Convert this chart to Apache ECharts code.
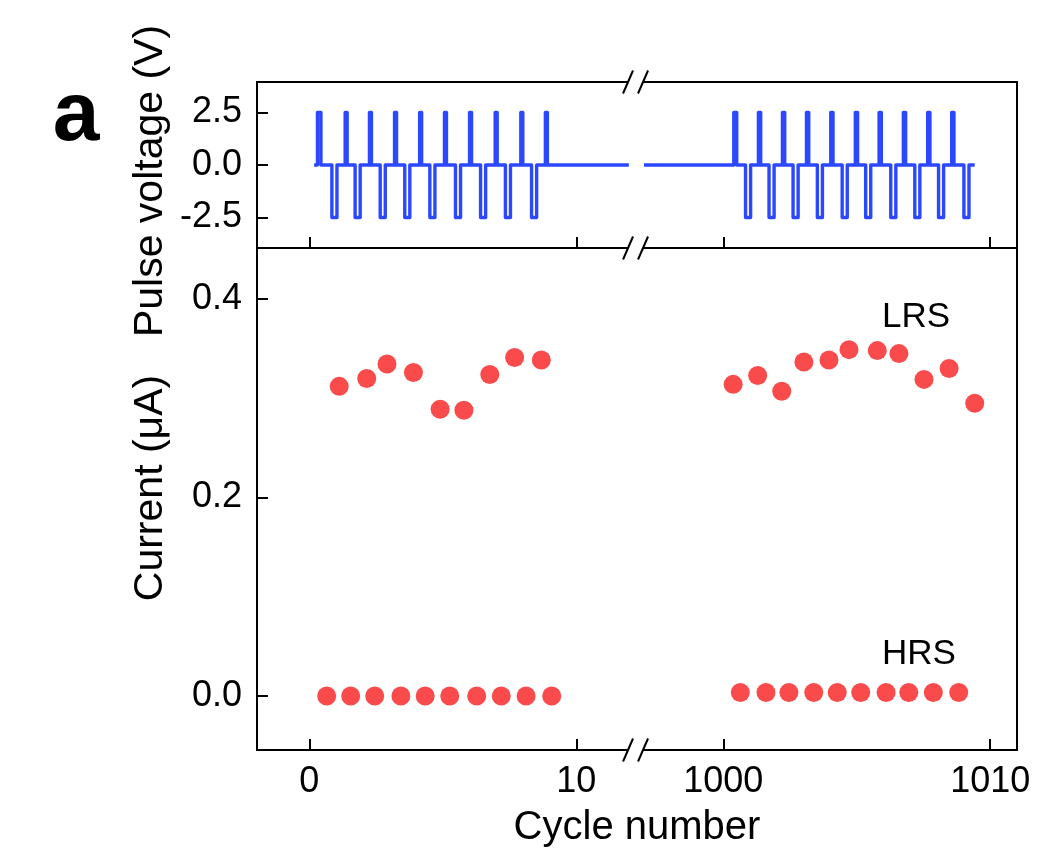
<!DOCTYPE html>
<html><head><meta charset="utf-8">
<script src="https://cdn.jsdelivr.net/npm/echarts@6/dist/echarts.min.js"></script>
<style>html,body{margin:0;padding:0;background:#fff}#c{width:1037px;height:854px}</style>
</head><body><div id="c"></div>
<script>
// ---------------- data ----------------
const xTickLabels = [0, 10, 1000, 1010];
const voltTicks = [-2.5, 0, 2.5];
const currTicks = [0, 0.2, 0.4];

const lrsLeftX  = [1.12, 2.15, 2.91, 3.90, 4.90, 5.79, 6.76, 7.69, 8.69];
const lrsLeftY  = [0.312, 0.320, 0.3345, 0.326, 0.289, 0.288, 0.324, 0.341, 0.3385];
const lrsRightX = [1000.37, 1001.29, 1002.19, 1003.02, 1003.96, 1004.71, 1005.77, 1006.58, 1007.52, 1008.46, 1009.42];
const lrsRightY = [0.314, 0.323, 0.307, 0.3365, 0.3385, 0.349, 0.348, 0.345, 0.319, 0.330, 0.295];
const hrsLeftX  = [0.65, 1.55, 2.45, 3.43, 4.34, 5.26, 6.27, 7.19, 8.12, 9.08];
const hrsLeftY  = [0, 0, 0, 0, 0, 0, 0, 0, 0, 0];
const hrsRightX = [1000.64, 1001.60, 1002.46, 1003.39, 1004.27, 1005.15, 1006.10, 1006.95, 1007.87, 1008.82];
const hrsRightY = [0.0035, 0.0035, 0.0035, 0.0035, 0.0035, 0.0035, 0.0035, 0.0035, 0.0035, 0.0035];

// pulse train: centre times of SET (+2.5 V) and RESET (-2.5 V) pulses and their widths
const setV = 2.5, resetV = -2.5;
const setLeftT    = [0.37, 1.38, 2.29, 3.23, 4.17, 5.10, 6.04, 7.00, 7.96, 8.88];
const setLeftW    = [0.13, 0.075, 0.075, 0.075, 0.075, 0.075, 0.075, 0.075, 0.075, 0.075];
const resetLeftT  = [0.94, 1.81, 2.75, 3.67, 4.61, 5.57, 6.51, 7.44, 8.42];
const setRightT   = [1000.45, 1001.36, 1002.26, 1003.16, 1004.07, 1004.99, 1005.88, 1006.79, 1007.70, 1008.60];
const setRightW   = [0.11, 0.085, 0.085, 0.085, 0.085, 0.085, 0.085, 0.085, 0.085, 0.085];
const resetRightT = [1000.93, 1001.81, 1002.71, 1003.62, 1004.55, 1005.43, 1006.37, 1007.27, 1008.16, 1009.11];
const resetW = 0.19;
const traceLeft  = [0.18, 11.97];
const traceRight = [997.03, 1009.42];

// ---------------- broken axis mapping ----------------
const rightShift = 1000 - 15.506;   // right segment drawn right after the break
const mapX = x => (x >= 500 ? x - rightShift : x);
const breakValue = 12.22;

function buildTrace(range, sets, setW, resets) {
  const ev = [];
  sets.forEach((t, i) => ev.push([t, setW[i], setV]));
  resets.forEach(t => ev.push([t, resetW, resetV]));
  ev.sort((a, b) => a[0] - b[0]);
  const pts = [[mapX(range[0]), 0]];
  ev.forEach(([t, w, v]) => {
    const a = mapX(t - w / 2), b = mapX(t + w / 2);
    pts.push([a, 0], [a, v], [b, v], [b, 0]);
  });
  pts.push([mapX(range[1]), 0]);
  return pts;
}
const zip = (xs, ys) => xs.map((x, i) => [mapX(x), ys[i]]);

const FONT = '"Liberation Sans", Arial, Helvetica, sans-serif';
const BLUE = '#2C48FF', RED = '#F94B4B';

const chart = echarts.init(document.getElementById('c'), null, {renderer: 'canvas'});

const tickStyle = {color: '#000', width: 2};
const xAxisBase = {
  type: 'value', min: -1.96, max: 26.51, position: 'bottom',
  axisLine: {show: false, onZero: false},
  splitLine: {show: false},
  axisTick: {show: true, inside: true, length: 11, lineStyle: tickStyle,
             customValues: xTickLabels.map(mapX)},
};
const yAxisBase = {
  type: 'value', position: 'left',
  axisLine: {show: false, onZero: false},
  splitLine: {show: false},
};
const option = {
  animation: false,
  backgroundColor: '#fff',
  grid: [
    {left: 257, top: 82, width: 760, height: 166, show: true, borderColor: '#000', borderWidth: 2, backgroundColor: 'transparent'},
    {left: 257, top: 248, width: 760, height: 502, show: true, borderColor: '#000', borderWidth: 2, backgroundColor: 'transparent'}
  ],
  xAxis: [
    Object.assign({}, xAxisBase, {gridIndex: 0, axisLabel: {show: false}}),
    Object.assign({}, xAxisBase, {gridIndex: 1,
      axisLabel: {show: true, color: '#000', fontSize: 36, fontFamily: FONT, margin: 14,
                  customValues: xTickLabels.map(mapX),
                  formatter: v => { const i = xTickLabels.map(mapX).findIndex(t => Math.abs(t - v) < 1e-6); return i >= 0 ? String(xTickLabels[i]) : ''; }}})
  ],
  yAxis: [
    Object.assign({}, yAxisBase, {gridIndex: 0, min: -3.95, max: 3.95,
     axisTick: {show: true, inside: true, length: 11, lineStyle: tickStyle, customValues: voltTicks},
     axisLabel: {show: true, color: '#000', fontSize: 36, fontFamily: FONT, margin: 15, customValues: voltTicks,
                 formatter: v => v.toFixed(1)}}),
    Object.assign({}, yAxisBase, {gridIndex: 1, min: -0.0544, max: 0.4514,
     axisTick: {show: true, inside: true, length: 11, lineStyle: tickStyle, customValues: currTicks},
     axisLabel: {show: true, color: '#000', fontSize: 36, fontFamily: FONT, margin: 15, customValues: currTicks,
                 formatter: v => v.toFixed(1)}})
  ],
  series: [
    {type: 'line', xAxisIndex: 0, yAxisIndex: 0, data: buildTrace(traceLeft, setLeftT, setLeftW, resetLeftT),
     symbol: 'none', lineStyle: {color: BLUE, width: 3.4, join: 'round', cap: 'butt'}},
    {type: 'line', xAxisIndex: 0, yAxisIndex: 0, data: buildTrace(traceRight, setRightT, setRightW, resetRightT),
     symbol: 'none', lineStyle: {color: BLUE, width: 3.4, join: 'round', cap: 'butt'}},
    {type: 'scatter', xAxisIndex: 1, yAxisIndex: 1, data: zip(lrsLeftX, lrsLeftY).concat(zip(lrsRightX, lrsRightY)),
     symbol: 'circle', symbolSize: 19, itemStyle: {color: RED, opacity: 1}},
    {type: 'scatter', xAxisIndex: 1, yAxisIndex: 1, data: zip(hrsLeftX, hrsLeftY).concat(zip(hrsRightX, hrsRightY)),
     symbol: 'circle', symbolSize: 19, itemStyle: {color: RED, opacity: 1}}
  ]
};
chart.setOption(option);

// texts and axis-break marks
const bx = chart.convertToPixel({xAxisIndex: 0}, breakValue);
const yTop = chart.convertToPixel({yAxisIndex: 0}, 3.95);
const yMid = chart.convertToPixel({yAxisIndex: 0}, -3.95);
const yBot = chart.convertToPixel({yAxisIndex: 1}, -0.0544);
const graphics = [];
[yTop, yMid, yBot].forEach(y => {
  graphics.push({type: 'rect', shape: {x: bx - 7.5, y: y - 2, width: 15, height: 4}, style: {fill: '#fff'}, z: 100});
  [-7.5, 7.5].forEach(dx => graphics.push({type: 'line', shape: {x1: bx + dx - 5, y1: y + 11.5, x2: bx + dx + 5, y2: y - 11.5},
    style: {stroke: '#000', lineWidth: 2}, z: 101}));
});
const txt = (text, x, y, font, extra) => Object.assign({type: 'text', x: x, y: y, z: 110,
  style: {text: text, x: 0, y: 0, fill: '#000', font: font, textAlign: 'center', textVerticalAlign: 'middle'}}, extra || {});
graphics.push(txt('a', 76, 117, 'bold 84px ' + FONT));
graphics.push(txt('Pulse voltage (V)', 151, 181, '41px ' + FONT, {rotation: Math.PI / 2}));
graphics.push(txt('Current (\u03bcA)', 151, 488, '41px ' + FONT, {rotation: Math.PI / 2}));
graphics.push(txt('Cycle number', 637, 828, '40px ' + FONT));
graphics.push(txt('LRS', 916, 317, '35px ' + FONT));
graphics.push(txt('HRS', 919, 654, '35px ' + FONT));
chart.setOption({graphic: graphics});
</script>
</body></html>
